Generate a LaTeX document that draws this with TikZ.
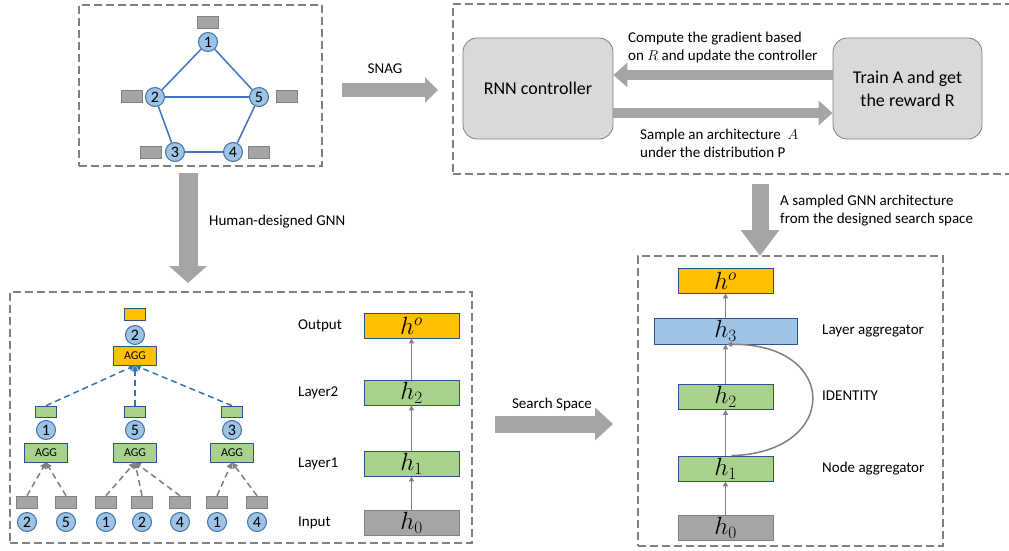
\documentclass[tikz,border=0pt]{standalone}
\usepackage{fontspec}
\setmainfont{Carlito}
\usetikzlibrary{arrows.meta}
\definecolor{dgray}{HTML}{7F7F7F}
\definecolor{arrgray}{HTML}{A5A5A5}
\definecolor{ctrlgray}{HTML}{D9D9D9}
\definecolor{cblue}{HTML}{9DC3E6}
\definecolor{cborder}{HTML}{41719C}
\definecolor{eblue}{HTML}{4472C4}
\definecolor{dblue}{HTML}{2E75B6}
\definecolor{borderblue}{HTML}{2F528F}
\definecolor{orng}{HTML}{FFC000}
\definecolor{grn}{HTML}{A9D18E}
\definecolor{featgray}{HTML}{A5A5A5}
\begin{document}
\begin{tikzpicture}[x=1pt,y=-1pt,
  dbox/.style={draw=dgray, line width=1.5pt, dash pattern=on 8pt off 4pt, inner sep=0pt},
  gn/.style={circle, fill=cblue, draw=cborder, line width=1pt, minimum size=19pt, inner sep=0pt, font=\fontsize{16}{16}\selectfont},
  gedge/.style={draw=eblue, line width=1.5pt},
  feat/.style={rectangle, fill=featgray, draw=gray, line width=0.6pt, minimum width=21pt, minimum height=12pt, inner sep=0pt},
  ofeat/.style={feat, fill=orng, draw=borderblue},
  gfeat/.style={feat, fill=grn, draw=borderblue, minimum height=11pt},
  agg/.style={rectangle, draw=borderblue, line width=0.8pt, minimum width=43pt, minimum height=19pt, inner sep=0pt, font=\fontsize{12}{12}\selectfont},
  hbox/.style={rectangle, draw=borderblue, line width=0.8pt, minimum width=95pt, minimum height=25pt, inner sep=0pt, font=\fontsize{24}{24}\selectfont},
  ctrl/.style={rectangle, rounded corners=14pt, fill=ctrlgray, draw=dgray, line width=0.8pt, minimum height=101pt, inner sep=0pt, align=center, font=\fontsize{18}{23}\selectfont},
  lbl/.style={font=\fontsize{15}{18}\selectfont, inner sep=0pt},
  barrow/.style={color=arrgray},
  harrow/.style={draw=dgray, line width=1.5pt, -{Triangle[length=5pt,width=5pt]}},
  bdash/.style={draw=dblue, line width=1.5pt, dash pattern=on 6pt off 4pt, -{Triangle[length=6pt,width=6pt]}},
  gdash/.style={draw=dgray, line width=1.5pt, dash pattern=on 6pt off 4pt, -{Triangle[length=6pt,width=6pt]}}
]
\useasboundingbox (0,0) rectangle (1009,551);

% ---------- dashed frames ----------
\node[dbox, minimum width=243pt, minimum height=161pt] (boxG) at (200.5,85.5) {};
\node[dbox, minimum width=561pt, minimum height=170pt] (boxS) at (733.5,89) {};
\node[dbox, minimum width=462pt, minimum height=251pt] (boxH) at (241,417.5) {};
\node[dbox, minimum width=305pt, minimum height=290pt] (boxA) at (790.5,401) {};

% ---------- input graph ----------
\node[gn] (g1) at (208,42) {1};
\node[gn] (g2) at (155,97) {2};
\node[gn] (g5) at (259,97) {5};
\node[gn] (g3) at (175,152) {3};
\node[gn] (g4) at (233,152) {4};
\draw[gedge] (g1) -- (g2);
\draw[gedge] (g1) -- (g5);
\draw[gedge] (g2) -- (g5);
\draw[gedge] (g2) -- (g3);
\draw[gedge] (g5) -- (g4);
\draw[gedge] (g3) -- (g4);
\node[feat] (f1) at (208,22) {};
\node[feat] (f2) at (132,96.5) {};
\node[feat] (f5) at (287,96.5) {};
\node[feat] (f3) at (151,152) {};
\node[feat] (f4) at (259,152) {};

% ---------- SNAG search loop ----------
\node[ctrl, minimum width=150pt] (rnn) at (538,88.5) {RNN controller};
\node[ctrl, minimum width=149pt] (train) at (907.5,88.5) {Train $\mathrm{A}$ and get\\the reward $\mathrm{R}$};
\draw[barrow, line width=10pt, -{Triangle[length=14pt,width=24pt]}] ([yshift=13.5pt]train.west) -- ([yshift=13.5pt]rnn.east);
\draw[barrow, line width=10pt, -{Triangle[length=14pt,width=24pt]}] ([yshift=-24.5pt]rnn.east) -- ([yshift=-24.5pt]train.west);
\node[lbl, anchor=west, align=left] (tcomp) at (628,48) {Compute the gradient based\\on $R$ and update the controller};
\node[lbl, anchor=west, align=left] (tsamp) at (640,143) {Sample an architecture~ $A$\\under the distribution P};

% ---------- big arrows ----------
\coordinate (snagS) at (342,90);
\coordinate (snagE) at (438,90);
\draw[barrow, line width=14pt, -{Triangle[length=13pt,width=25pt]}] (snagS) -- (snagE);
\node[lbl] (tsnag) at (385,69) {SNAG};

\coordinate (humS) at (188,173);
\coordinate (humE) at (188,283);
\draw[barrow, line width=19pt, -{Triangle[length=17pt,width=37pt]}] (humS) -- (humE);
\node[lbl, anchor=west] (thum) at (209,222) {Human-designed GNN};

\coordinate (smpS) at (760,184);
\coordinate (smpE) at (760,256);
\draw[barrow, line width=17pt, -{Triangle[length=26pt,width=37pt]}] (smpS) -- (smpE);
\node[lbl, anchor=west, align=left] (tsmp) at (780,211) {A sampled GNN architecture\\from the designed search space};

\coordinate (ssS) at (495,424);
\coordinate (ssE) at (613,424);
\draw[barrow, line width=17pt, -{Triangle[length=18pt,width=32pt]}] (ssS) -- (ssE);
\node[lbl] (tss) at (552,404) {Search Space};

% ---------- computation tree ----------
\node[ofeat] (tf) at (135,314) {};
\node[gn] (tc) at (135,335) {2};
\node[agg, fill=orng] (tagg) at (135,355.5) {AGG};

\node[gfeat] (lf1) at (46,411.5) {};
\node[gfeat] (lf5) at (135,411.5) {};
\node[gfeat] (lf3) at (232,411.5) {};
\node[gn] (lc1) at (46,430) {1};
\node[gn] (lc5) at (135,430) {5};
\node[gn] (lc3) at (232,430) {3};
\node[agg, fill=grn] (la1) at (46,452.5) {AGG};
\node[agg, fill=grn] (la5) at (135,452.5) {AGG};
\node[agg, fill=grn] (la3) at (232,452.5) {AGG};
\draw[bdash] (lf1.north) -- (tagg.south);
\draw[bdash] (lf5.north) -- (tagg.south);
\draw[bdash] (lf3.north) -- (tagg.south);

\foreach \n/\x/\t in {a/27/2, b/66/5, c/106/1, d/142/2, e/180/4, f/217/1, g/257/4}{
  \node[feat] (bf\n) at (\x,502) {};
  \node[gn] (bc\n) at (\x,522) {\t};
}
\draw[gdash] (bfa.north) -- (la1.south);
\draw[gdash] (bfb.north) -- (la1.south);
\draw[gdash] (bfc.north) -- (la5.south);
\draw[gdash] (bfd.north) -- (la5.south);
\draw[gdash] (bfe.north) -- (la5.south);
\draw[gdash] (bff.north) -- (la3.south);
\draw[gdash] (bfg.north) -- (la3.south);

% ---------- human-designed layer stack ----------
\node[hbox, fill=orng] (hom) at (411.5,325.5) {$h^o$};
\node[hbox, fill=grn] (h2m) at (411.5,392.5) {$h_2$};
\node[hbox, fill=grn] (h1m) at (411.5,463.5) {$h_1$};
\node[hbox, fill=featgray, draw=gray] (h0m) at (411.5,522.5) {$h_0$};
\draw[harrow] (h0m.north) -- (h1m.south);
\draw[harrow] (h1m.north) -- (h2m.south);
\draw[harrow] (h2m.north) -- (hom.south);
\node[lbl, anchor=west] (lout) at (298,325.5) {Output};
\node[lbl, anchor=west] (ll2) at (298,392.5) {Layer2};
\node[lbl, anchor=west] (ll1) at (298,463.5) {Layer1};
\node[lbl, anchor=west] (lin) at (298,522.5) {Input};

% ---------- sampled architecture ----------
\node[hbox, fill=orng] (hor) at (725.5,280.5) {$h^o$};
\node[hbox, fill=cblue, minimum width=143pt, minimum height=26pt] (h3r) at (725.5,331) {$h_3$};
\node[hbox, fill=grn] (h2r) at (725.5,397) {$h_2$};
\node[hbox, fill=grn] (h1r) at (725.5,468.5) {$h_1$};
\node[hbox, fill=featgray, draw=gray] (h0r) at (725.5,527.5) {$h_0$};
\draw[harrow] (h0r.north) -- (h1r.south);
\draw[harrow] (h1r.north) -- (h2r.south);
\draw[harrow] (h2r.north) -- (h3r.south);
\draw[harrow] (h3r.north) -- (hor.south);
\draw[harrow] ([xshift=6pt]h1r.north) .. controls (840,453) and (840,343) .. ([xshift=1.5pt]h3r.south);
\node[lbl, anchor=west] (rla) at (822,331) {Layer aggregator};
\node[lbl, anchor=west] (rid) at (822,396) {IDENTITY};
\node[lbl, anchor=west] (rna) at (822,468.5) {Node aggregator};
\end{tikzpicture}
\end{document}
